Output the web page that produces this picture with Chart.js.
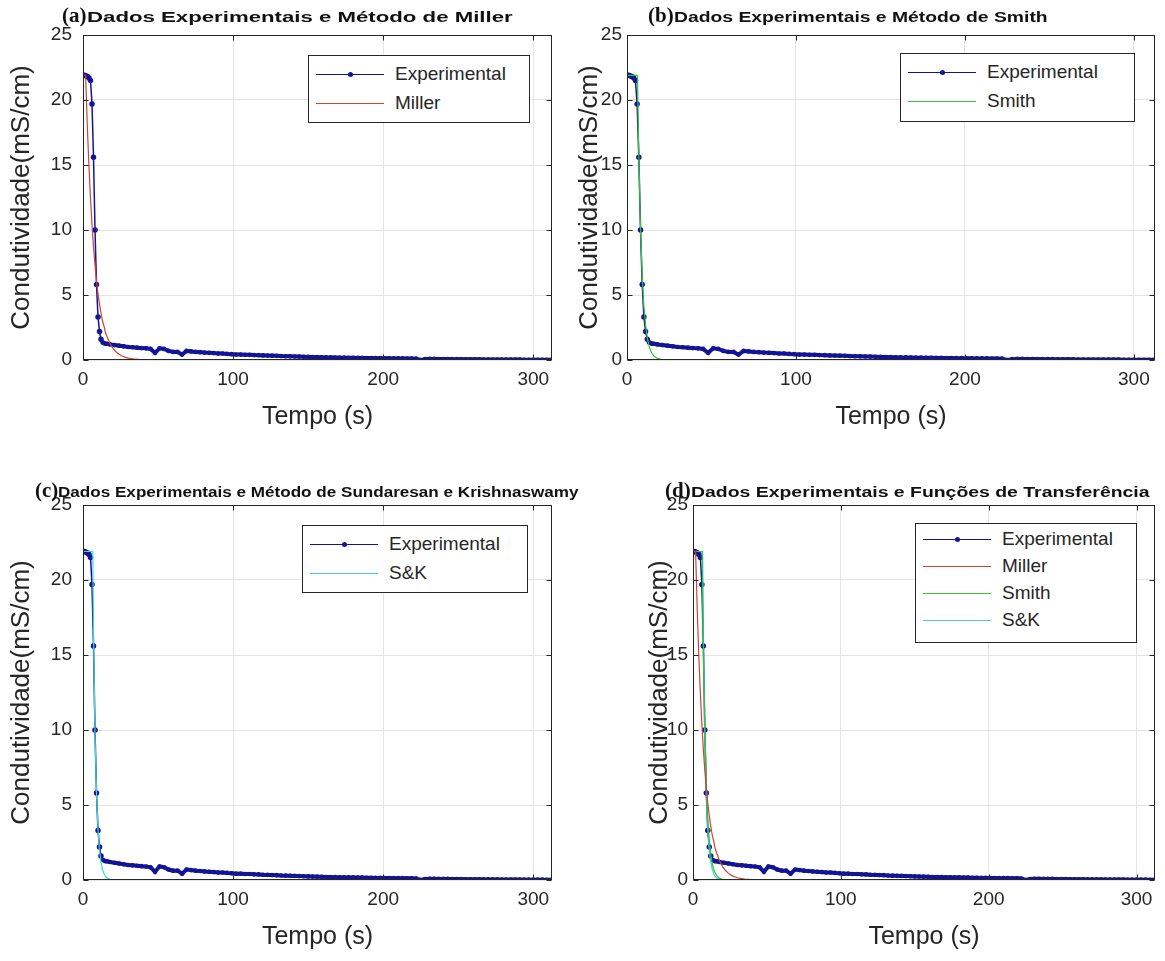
<!DOCTYPE html>
<html>
<head>
<meta charset="utf-8">
<script src="https://cdn.jsdelivr.net/npm/chart.js@4.4.0/dist/chart.umd.min.js"></script>
<style>
body{margin:0;background:#fff;width:1165px;height:961px;position:relative;overflow:hidden;font-family:'Liberation Sans',Arial,sans-serif;}
canvas{position:absolute;}
.ttl{position:absolute;white-space:nowrap;color:#111;height:24px;line-height:24px;}
.ttl b{font-family:'Liberation Serif',serif;font-size:21px;font-weight:bold;vertical-align:top;}
.ttl span{display:inline-block;font-size:14px;font-weight:bold;transform-origin:0 50%;vertical-align:top;padding-top:2px;}
.leg{position:absolute;border:1px solid #262626;background:#fff;color:#262626;font-size:19px;}
.leg .ln{position:absolute;left:7px;width:68px;height:1px;}
.leg .dot{position:absolute;left:32px;top:-2px;width:5px;height:5px;border-radius:50%;}
.leg .tx{position:absolute;left:86px;line-height:22px;white-space:nowrap;}
</style>
</head>
<body>
<canvas id="ca"></canvas>
<canvas id="cb"></canvas>
<canvas id="cc"></canvas>
<canvas id="cd"></canvas>

<script>
// series names and axis limits
const seriesNames = ['Experimental', 'Miller', 'Smith', 'S&K'];
const xMax = 312.5, xStep = 100;
const yMax = 25, yStep = 5;

// experimental points (s, mS/cm)
const tExp = [0,1,2,3,4,5,6,7,8,9,10,11,12,13,14,15,16,
  18,21,24,27,30,33,36,39,42,45,
  48,51,54,57,60,63,66,69,72,75,
  78,81,84,87,90,93,96,99,102,105,
  108,111,114,117,120,123,126,129,132,135,
  138,141,144,147,150,153,156,159,162,165,
  168,171,174,177,180,183,186,189,192,195,
  198,201,204,207,210,213,216,219,222,225,
  228,231,234,237,240,243,246,249,252,255,
  258,261,264,267,270,273,276,279,282,285,
  288,291,294,297,300,303,306,309,312];
const expVals = [21.9,21.9,21.85,21.8,21.7,21.5,19.7,15.6,10.0,5.8,3.3,2.2,1.6,1.35,1.3,1.25,1.25,
  1.2,1.15,1.1,1.05,1.0,0.98,0.95,0.92,0.9,0.85,
  0.55,0.9,0.85,0.7,0.62,0.62,0.42,0.7,0.66,0.62,
  0.6,0.57,0.55,0.53,0.5,0.5,0.47,0.45,0.42,0.42,
  0.4,0.4,0.38,0.37,0.35,0.34,0.33,0.32,0.3,0.29,
  0.28,0.27,0.26,0.25,0.24,0.23,0.22,0.21,0.2,0.2,
  0.19,0.18,0.18,0.17,0.17,0.16,0.16,0.15,0.15,0.14,
  0.14,0.13,0.13,0.12,0.12,0.12,0.11,0.11,0.1,0.0,
  0.06,0.08,0.08,0.07,0.07,0.07,0.06,0.06,0.06,0.05,
  0.05,0.05,0.05,0.04,0.04,0.04,0.04,0.03,0.03,0.03,
  0.03,0.03,0.02,0.02,0.02,0.02,0.02,0.01,0.01];

// model curves
const tMiller = [0,1.75,3,4,5,6,7,8,9,10,11,12,13,14,15,16,18,20,22,24,26,28,30,35,40,50,312];
const millerVals = [21.9,21.9,17.6,14.8,12.4,10.4,8.7,7.3,6.1,5.1,4.3,3.6,3.0,2.6,2.1,1.8,1.27,0.89,0.63,0.44,0.31,0.22,0.15,0.06,0.02,0,0];
const tSmith = [0,6.2,7,8,9,10,11,12,13,14,15,16,18,20,25,312];
const smithVals = [21.9,21.9,15.7,10.0,6.5,4.1,2.7,1.7,1.1,0.7,0.46,0.29,0.12,0.05,0.01,0];
const tSK = [0,6.5,7,8,9,10,11,12,13,14,15,16,18,20,25,312];
const skVals = [21.9,21.9,16.5,9.7,5.8,3.4,2.0,1.2,0.7,0.41,0.24,0.14,0.05,0.02,0,0];

const colors = {Experimental:'#141496', Miller:'#cc4433', Smith:'#33c433', 'S&K':'#3fd6d6'};

function pts(t, v){ return t.map((x,i)=>({x:x, y:v[i]})); }

function series(name){
  if(name==='Experimental') return {label:name, data:pts(tExp,expVals), showLine:true,
    borderColor:colors[name], backgroundColor:colors[name], borderWidth:1.5, order:5,
    // dense samples in the tail blur into a thick band in the original
    segment:{borderWidth: c => c.p0.parsed.x >= 13 ? 4 : 1.5},
    pointRadius: c => (c.raw && c.raw.x >= 13) ? 1.6 : 2};
  const src = {Miller:[tMiller,millerVals], Smith:[tSmith,smithVals], 'S&K':[tSK,skVals]}[name];
  return {label:name, data:pts(src[0],src[1]), showLine:true, borderColor:colors[name],
    borderWidth:1.2, pointRadius:0, order:1};
}

// axes box with inward ticks, matlab style
const frame = {
  id:'frame',
  afterDraw(chart){
    const {ctx, chartArea:a, scales:{x,y}} = chart;
    ctx.save();
    ctx.strokeStyle = '#262626'; ctx.lineWidth = 1;
    const l = Math.round(a.left)+0.5, r = Math.round(a.right)-0.5, t = Math.round(a.top)+0.5, b = Math.round(a.bottom)-0.5;
    ctx.strokeRect(l, t, r-l, b-t);
    ctx.beginPath();
    x.ticks.forEach(k=>{
      const p = Math.round(x.getPixelForValue(k.value))+0.5;
      ctx.moveTo(p,b); ctx.lineTo(p,b-5); ctx.moveTo(p,t); ctx.lineTo(p,t+5);
    });
    y.ticks.forEach(k=>{
      const p = Math.round(y.getPixelForValue(k.value))+0.5;
      ctx.moveTo(l,p); ctx.lineTo(l+5,p); ctx.moveTo(r,p); ctx.lineTo(r-5,p);
    });
    ctx.stroke();
    ctx.restore();
  }
};

function panel(id, cv, area, names, tickPad){
  const el = document.getElementById(id);
  el.width = cv.w; el.height = cv.h;
  el.style.left = cv.x+'px'; el.style.top = cv.y+'px';
  const txt = '#262626';
  new Chart(el, {
    type:'scatter',
    data:{datasets: names.map(series)},
    options:{
      responsive:false, animation:false,
      layout:{padding:{top:area.top-cv.y, right:cv.x+cv.w-area.right, left:0, bottom:0}},
      plugins:{legend:{display:false}, tooltip:{enabled:false}},
      scales:{
        x:{type:'linear', min:0, max:xMax,
          afterFit:s=>{ s.height = cv.y+cv.h-area.bottom; },
          grid:{color:'#e4e4e4', drawTicks:false}, border:{display:false},
          ticks:{stepSize:xStep, includeBounds:false, color:txt, font:{size:19, family:'Liberation Sans'}, padding:8},
          title:{display:true, text:'Tempo (s)', color:txt, font:{size:25, family:'Liberation Sans'}, padding:0}},
        y:{min:0, max:yMax,
          afterFit:s=>{ s.width = area.left-cv.x; },
          grid:{color:'#e4e4e4', drawTicks:false}, border:{display:false},
          ticks:{stepSize:yStep, color:txt, font:{size:19, family:'Liberation Sans'}, padding:tickPad},
          title:{display:true, text:'Condutividade(mS/cm)', color:txt, font:{size:26, family:'Liberation Sans'}, padding:0}}
      }
    },
    plugins:[frame]
  });
}

function legend(box, names, rowGap){
  const d = document.createElement('div');
  d.className = 'leg';
  Object.assign(d.style, {left:box.x+'px', top:box.y+'px', width:box.w+'px', height:box.h+'px'});
  names.forEach((n,i)=>{
    const cy = box.first + i*rowGap;
    const ln = document.createElement('div');
    ln.className = 'ln'; ln.style.top = cy+'px'; ln.style.background = colors[n];
    if(n==='Experimental'){
      const dot = document.createElement('div');
      dot.className = 'dot'; dot.style.background = colors[n];
      ln.appendChild(dot);
    }
    const tx = document.createElement('div');
    tx.className = 'tx'; tx.style.top = (cy-11)+'px'; tx.textContent = n;
    d.appendChild(ln); d.appendChild(tx);
  });
  document.body.appendChild(d);
}

function title(tag, text, x0, x1, cy){
  const d = document.createElement('div');
  d.className = 'ttl';
  d.style.left = x0+'px'; d.style.top = (cy-12)+'px';
  const b = document.createElement('b'); b.textContent = tag;
  const s = document.createElement('span'); s.textContent = text;
  d.appendChild(b); d.appendChild(s);
  document.body.appendChild(d);
  const room = x1 - x0 - b.offsetWidth;
  s.style.transform = 'scaleX(' + (room / s.offsetWidth) + ')';
}

panel('ca', {x:6, y:0, w:569, h:432}, {left:83, right:552, top:35, bottom:360}, ['Experimental','Miller'], 11);
panel('cb', {x:574, y:0, w:591, h:432}, {left:627, right:1155, top:35, bottom:360}, ['Experimental','Smith'], 5);
panel('cc', {x:6, y:470, w:569, h:482}, {left:83, right:552, top:505, bottom:880}, ['Experimental','S&K'], 11);
panel('cd', {x:644, y:470, w:521, h:482}, {left:693, right:1155, top:505, bottom:880}, ['Experimental','Miller','Smith','S&K'], 5);

legend({x:308, y:55, w:220, h:66, first:18}, ['Experimental','Miller'], 29);
legend({x:900, y:53, w:233, h:67, first:18}, ['Experimental','Smith'], 29);
legend({x:302, y:525, w:224, h:66, first:18}, ['Experimental','S&K'], 29);
legend({x:915, y:523, w:220, h:118, first:15}, ['Experimental','Miller','Smith','S&K'], 27);

title('(a)', 'Dados Experimentais e Método de Miller', 62, 512, 15);
title('(b)', 'Dados Experimentais e Método de Smith', 648, 1048, 15);
title('(c)', 'Dados Experimentais e Método de Sundaresan e Krishnaswamy', 35, 578, 490);
title('(d)', 'Dados Experimentais e Funções de Transferência', 665, 1150, 490);
</script>
</body>
</html>
